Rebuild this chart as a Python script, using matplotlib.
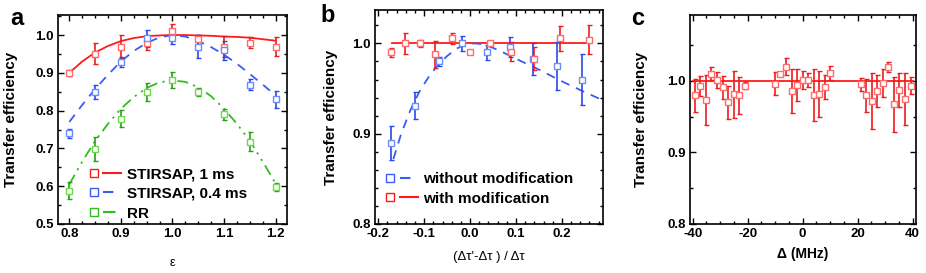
import numpy as np
import matplotlib
matplotlib.use("Agg")
import matplotlib.pyplot as plt
from matplotlib.lines import Line2D
from matplotlib.legend_handler import HandlerTuple
from matplotlib.ticker import MultipleLocator, FormatStrFormatter

plt.rcParams['font.family'] = ['Liberation Sans', 'DejaVu Sans']
plt.rcParams['font.weight'] = 'bold'
plt.rcParams['axes.unicode_minus'] = False

# ---- panel a data ----
eps = [0.80, 0.85, 0.90, 0.95, 1.00, 1.05, 1.10, 1.15, 1.20]
stir1_y = [0.900, 0.951, 0.969, 0.980, 1.010, 0.989, 0.969, 0.980, 0.969]
stir1_e = [0.008, 0.027, 0.030, 0.020, 0.020, 0.012, 0.028, 0.015, 0.025]
stir04_y = [0.740, 0.850, 0.929, 0.991, 0.991, 0.969, 0.960, 0.869, 0.830]
stir04_e = [0.012, 0.019, 0.014, 0.022, 0.015, 0.030, 0.025, 0.015, 0.022]
rr_y = [0.588, 0.698, 0.779, 0.850, 0.880, 0.850, 0.790, 0.718, 0.597]
rr_e = [0.022, 0.032, 0.023, 0.024, 0.021, 0.011, 0.014, 0.026, 0.011]

fit_eps = [0.800, 0.825, 0.850, 0.875, 0.900, 0.925, 0.950, 0.975, 1.000,
           1.025, 1.050, 1.075, 1.100, 1.125, 1.150, 1.175, 1.200]
stir1_fit = [0.900, 0.930, 0.954, 0.971, 0.984, 0.992, 0.997, 0.999, 1.000,
             1.000, 0.999, 0.998, 0.996, 0.995, 0.993, 0.989, 0.985]
stir04_fit = [0.770, 0.815, 0.857, 0.895, 0.930, 0.958, 0.979, 0.994, 1.000,
              0.996, 0.984, 0.968, 0.948, 0.924, 0.897, 0.869, 0.840]
rr_fit = [0.605, 0.665, 0.720, 0.765, 0.805, 0.836, 0.860, 0.875, 0.880,
          0.876, 0.862, 0.838, 0.805, 0.765, 0.720, 0.665, 0.607]

# ---- panel b data ----
mod_x = [-0.172, -0.142, -0.110, -0.076, -0.040, 0.000, 0.044, 0.090, 0.140, 0.196, 0.259]
mod_y = [0.990, 1.000, 1.000, 0.988, 1.0055, 0.990, 1.000, 0.991, 0.983, 1.0055, 1.004]
mod_e = [0.005, 0.012, 0.004, 0.015, 0.006, 0.001, 0.002, 0.011, 0.013, 0.014, 0.016]
nomod_x = [-0.173, -0.120, -0.067, -0.017, 0.036, 0.087, 0.137, 0.190, 0.244]
nomod_y = [0.890, 0.931, 0.980, 1.000, 0.990, 0.996, 0.983, 0.975, 0.960]
nomod_e = [0.019, 0.015, 0.005, 0.008, 0.008, 0.011, 0.0175, 0.027, 0.0285]
mod_fit_x = [-0.170, 0.259]
mod_fit_y = [1.0, 1.0]
nomod_fit_x = [-0.167, -0.150, -0.130, -0.110, -0.090, -0.070, -0.050, -0.030, -0.010,
               0.010, 0.030, 0.060, 0.100, 0.150, 0.200, 0.250, 0.285]
nomod_fit_y = [0.872, 0.900, 0.926, 0.947, 0.963, 0.976, 0.986, 0.994, 0.999,
               1.000, 0.999, 0.993, 0.983, 0.971, 0.958, 0.946, 0.938]

# ---- panel c data ----
det = [-39.3, -37.2, -35.2, -33.2, -31.2, -29.1, -27.2, -25.1, -23.2, -21.1,
       -10.2, -8.1, -6.1, -4.0, -2.1, 0.0, 2.1, 4.0, 6.1, 8.0, 10.0,
       21.1, 23.2, 25.1, 27.2, 29.2, 31.2, 33.2, 35.2, 37.3, 39.3]
det_y = [0.980, 0.993, 0.973, 1.010, 1.001, 0.991, 0.970, 0.981, 0.980, 0.993,
         0.996, 1.010, 1.020, 0.986, 0.994, 1.001, 1.001, 0.980, 0.982, 0.991, 1.011,
         0.995, 0.980, 0.972, 0.986, 0.997, 1.020, 0.967, 0.987, 0.975, 0.993]
det_e = [0.023, 0.014, 0.035, 0.009, 0.011, 0.016, 0.023, 0.033, 0.026, 0.005,
         0.016, 0.002, 0.012, 0.031, 0.022, 0.013, 0.010, 0.036, 0.032, 0.017, 0.010,
         0.009, 0.023, 0.039, 0.022, 0.020, 0.007, 0.039, 0.024, 0.036, 0.012]
det_fit_x = [-40, 40]
det_fit_y = [1.0, 1.0]

RED, RED_ERR, RED_MK = '#ff1a1a', '#ee1c1c', '#ff6a6a'
BLUE, BLUE_ERR, BLUE_MK = '#3a5cf5', '#2a48ea', '#6a8cff'
GREEN, GREEN_ERR, GREEN_MK = '#33bb22', '#26a016', '#6fd84f'
DASH = (0, (5, 4))
DASHDOT = (0, (6, 3, 1.2, 3, 1.2, 3))

fig = plt.figure(figsize=(9.26, 2.73), dpi=100)
ax_a = fig.add_axes([0.0626, 0.1795, 0.2473, 0.7655])
ax_b = fig.add_axes([0.4050, 0.1795, 0.2459, 0.7839])
ax_c = fig.add_axes([0.7451, 0.1795, 0.2440, 0.7655])


def points(ax, x, y, e, ecol, mcol):
    ax.errorbar(x, y, yerr=e, fmt='s', ms=4.5, mfc='white', mec=mcol, mew=1.0,
                ecolor=ecol, elinewidth=1.2, capsize=1.8, capthick=1.0, zorder=3)


def style(ax):
    ax.tick_params(which='both', direction='in', top=True, right=True,
                   labelsize=9.5, width=1.0, pad=3)
    ax.tick_params(which='major', length=4)
    ax.tick_params(which='minor', length=2)
    for s in ax.spines.values():
        s.set_linewidth(1.2)
    for lab in ax.get_xticklabels() + ax.get_yticklabels():
        lab.set_fontweight('bold')


def legend_handle(color, ls):
    return (Line2D([], [], ls='none', marker='s', ms=5.5, mfc='white', mec=color, mew=1.0),
            Line2D([], [], color=color, lw=1.5, ls=ls))


# panel a
ax = ax_a
ax.plot(fit_eps, stir1_fit, color=RED, lw=1.3, zorder=2)
ax.plot(fit_eps, stir04_fit, color=BLUE, lw=1.3, ls=DASH, zorder=2)
ax.plot(fit_eps, rr_fit, color=GREEN, lw=1.3, ls=DASHDOT, zorder=2)
points(ax, eps, stir1_y, stir1_e, RED_ERR, RED_MK)
points(ax, eps, stir04_y, stir04_e, BLUE_ERR, BLUE_MK)
points(ax, eps, rr_y, rr_e, GREEN_ERR, GREEN_MK)
ax.set_xlim(0.778, 1.222)
ax.set_ylim(0.5, 1.053)
ax.xaxis.set_major_locator(MultipleLocator(0.1))
ax.xaxis.set_minor_locator(MultipleLocator(0.025))
ax.yaxis.set_major_locator(MultipleLocator(0.1))
ax.yaxis.set_minor_locator(MultipleLocator(0.05))
ax.xaxis.set_major_formatter(FormatStrFormatter('%.1f'))
ax.yaxis.set_major_formatter(FormatStrFormatter('%.1f'))
style(ax)
ax.set_ylabel('Transfer efficiency', fontsize=11, fontweight='bold')
ax.yaxis.set_label_coords(-0.175, 0.5)
ax.set_xlabel('ε', fontsize=9, fontweight='normal', labelpad=12)
ax.legend([legend_handle(RED, '-'), legend_handle(BLUE, DASH), legend_handle(GREEN, DASHDOT)],
          ['STIRSAP, 1 ms', 'STIRSAP, 0.4 ms', 'RR'],
          handler_map={tuple: HandlerTuple(ndivide=None, pad=0.0)},
          loc='lower left', bbox_to_anchor=(0.07, -0.035), frameon=False,
          handlelength=2.4, handletextpad=0.35, labelspacing=0.38,
          prop={'size': 11, 'weight': 'bold'}, borderaxespad=0.3)
fig.text(0.018, 0.91, 'a', fontsize=17, fontweight='bold', ha='center')

# panel b
ax = ax_b
ax.plot(mod_fit_x, mod_fit_y, color=RED, lw=1.3, zorder=2)
ax.plot(nomod_fit_x, nomod_fit_y, color=BLUE, lw=1.3, ls=DASH, zorder=2)
points(ax, nomod_x, nomod_y, nomod_e, BLUE_ERR, BLUE_MK)
points(ax, mod_x, mod_y, mod_e, RED_ERR, RED_MK)
ax.set_xlim(-0.207, 0.289)
ax.set_ylim(0.8, 1.037)
ax.xaxis.set_major_locator(MultipleLocator(0.1))
ax.xaxis.set_minor_locator(MultipleLocator(0.02))
ax.yaxis.set_major_locator(MultipleLocator(0.1))
ax.yaxis.set_minor_locator(MultipleLocator(0.02))
ax.xaxis.set_major_formatter(FormatStrFormatter('%.1f'))
ax.yaxis.set_major_formatter(FormatStrFormatter('%.1f'))
style(ax)
ax.set_ylabel('Transfer efficiency', fontsize=11, fontweight='bold')
ax.yaxis.set_label_coords(-0.162, 0.5)
ax.set_xlabel("(Δτ'-Δτ ) / Δτ", fontsize=9.5, fontweight='normal', labelpad=8)
ax.legend([legend_handle(BLUE, DASH), legend_handle(RED, '-')],
          ['without modification', 'with modification'],
          handler_map={tuple: HandlerTuple(ndivide=None, pad=0.0)},
          loc='lower left', bbox_to_anchor=(-0.02, 0.035), frameon=False,
          handlelength=2.4, handletextpad=0.35, labelspacing=0.38,
          prop={'size': 11, 'weight': 'bold'}, borderaxespad=0.3)
fig.text(0.354, 0.92, 'b', fontsize=17, fontweight='bold', ha='center')

# panel c
ax = ax_c
ax.plot(det_fit_x, det_fit_y, color=RED, lw=1.3, zorder=2)
points(ax, det, det_y, det_e, RED_ERR, RED_MK)
ax.set_xlim(-41, 41.2)
ax.set_ylim(0.8, 1.092)
ax.xaxis.set_major_locator(MultipleLocator(20))
ax.xaxis.set_minor_locator(MultipleLocator(5))
ax.yaxis.set_major_locator(MultipleLocator(0.1))
ax.yaxis.set_minor_locator(MultipleLocator(0.05))
ax.yaxis.set_major_formatter(FormatStrFormatter('%.1f'))
style(ax)
ax.set_ylabel('Transfer efficiency', fontsize=11, fontweight='bold')
ax.yaxis.set_label_coords(-0.186, 0.5)
ax.set_xlabel('Δ (MHz)', fontsize=10, fontweight='bold', labelpad=5)
fig.text(0.689, 0.91, 'c', fontsize=17, fontweight='bold', ha='center')

fig.savefig('out.png', dpi=100)
